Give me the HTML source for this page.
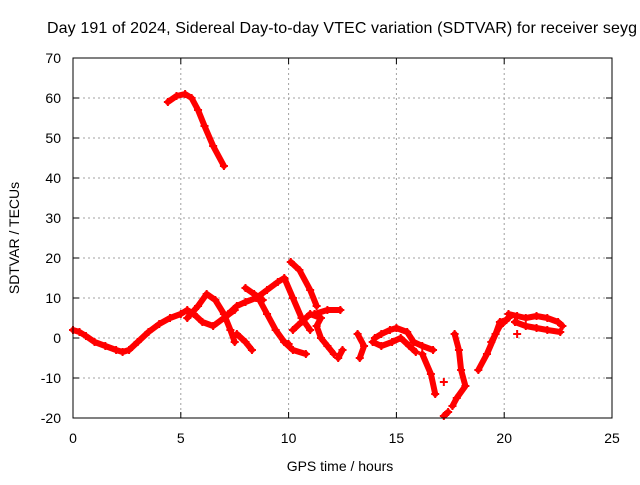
<!DOCTYPE html>
<html><head><meta charset="utf-8"><style>
body{margin:0;background:#fff}
svg text{font-family:"Liberation Sans",sans-serif;font-size:14px;fill:#000}
</style></head><body>
<svg id="chart" width="640" height="480">
<rect width="640" height="480" fill="#fff"/>
<g id="grid"></g>
<g id="series"></g>
<rect x="73" y="58" width="539" height="360" fill="none" stroke="#000" stroke-width="1"/>
<g id="ticks"></g>
<text x="47" y="33" text-anchor="start" style="font-size:16px" textLength="590">Day 191 of 2024, Sidereal Day-to-day VTEC variation (SDTVAR) for receiver seyg</text>
<text x="340" y="471" text-anchor="middle">GPS time / hours</text>
<text transform="translate(19,238) rotate(-90)" text-anchor="middle">SDTVAR / TECUs</text>
</svg>
<script>
const xTicks=[0,5,10,15,20,25];
const yTicks=[-20,-10,0,10,20,30,40,50,60,70];
const tracks=[
[[0,2],[0.3,1.5],[0.6,0.5],[1,-1],[1.5,-2],[2,-3],[2.3,-3.5],[2.6,-3],[3,-1],[3.5,1.5],[4,3.5],[4.5,5],[5,6],[5.3,7],[5.6,6],[6,4],[6.5,3],[7,5],[7.5,7]],
[[5.3,5],[5.8,8],[6.2,11],[6.6,9.5],[7,6],[7.3,2],[7.5,-1]],
[[7.2,6],[7.6,8],[8,9],[8.5,10],[9,12],[9.5,14],[9.8,15],[10.2,10],[10.6,5],[11,2]],
[[8,12.5],[8.4,11],[8.8,9.5]],
[[8.6,10],[9,6],[9.4,2],[9.8,-1],[10,-1.5]],
[[7.6,1],[8,-1],[8.3,-3]],
[[10.1,19],[10.5,17],[11,12],[11.3,8]],
[[9.8,-1],[10.2,-3],[10.8,-4]],
[[10.2,2],[10.6,4],[11,6],[11.5,5],[11.3,3],[11.5,0],[11.8,-2],[12.1,-4]],
[[11.2,6],[11.8,7],[12.4,7]],
[[12.5,-3],[12.3,-5]],
[[13.2,1],[13.5,-2],[13.3,-5]],
[[14,0],[14.3,1],[14.7,2],[15,2.5],[15.5,1.5],[15.8,-1],[16.2,-2],[16.7,-3]],
[[13.9,-1],[14.3,-2],[14.8,-1],[15.2,0],[15.6,-2],[15.9,-3.5]],
[[16.2,-4],[16.6,-9],[16.8,-14]],
[[17.7,1],[17.9,-3],[18,-8],[18.2,-12],[17.8,-15],[17.6,-17]],
[[17.2,-19.5],[17.4,-18.5]],
[[17.2,-11]],
[[18.8,-8],[19.2,-4],[19.6,1],[19.8,4],[20.1,4.5]],
[[19.4,-1],[19.8,3],[20.2,5]],
[[20.2,6],[20.6,5.5],[21,5],[21.5,5.5],[22,5],[22.5,4],[22.7,3]],
[[20.5,4],[21,3],[21.5,2.5],[22,2],[22.6,1.5]],
[[20.6,1]],
[[4.4,59],[4.8,60.5],[5.2,61],[5.5,60],[5.8,57],[6.1,53],[6.5,48],[7,43]]
];
const X0=73,X1=612,Y0=418,Y1=58;
const sx=v=>X0+(v-0)/(25-0)*(X1-X0);
const sy=v=>Y0-(v+20)/(70+20)*(Y0-Y1);
const NS="http://www.w3.org/2000/svg";
const grid=document.getElementById('grid'),ticks=document.getElementById('ticks'),ser=document.getElementById('series');
function mk(t,a,p){const e=document.createElementNS(NS,t);for(const k in a)e.setAttribute(k,a[k]);p.appendChild(e);return e;}
xTicks.forEach(v=>{
 const x=sx(v);
 if(v>0&&v<25){const g=mk('line',{x1:x,x2:x,y1:Y1,y2:Y0,stroke:'#a0a0a0','stroke-dasharray':'2,3'},grid);
 
 }
 mk('line',{x1:x,x2:x,y1:Y0,y2:Y0-6,stroke:'#000'},ticks);
 mk('line',{x1:x,x2:x,y1:Y1,y2:Y1+6,stroke:'#000'},ticks);
 const t=mk('text',{x:x,y:443,'text-anchor':'middle'},ticks);t.textContent=v;
 
 
});
yTicks.forEach(v=>{
 const y=sy(v);
 if(v>-20&&v<70){const g=mk('line',{x1:X0,x2:X1,y1:y,y2:y,stroke:'#a0a0a0','stroke-dasharray':'2,3'},grid);
 
 }
 mk('line',{x1:X0,x2:X0+6,y1:y,y2:y,stroke:'#000'},ticks);
 mk('line',{x1:X1,x2:X1-6,y1:y,y2:y,stroke:'#000'},ticks);
 const t=mk('text',{x:61,y:y+5,'text-anchor':'end'},ticks);t.textContent=v;
 
 
});
tracks.forEach(tr=>{
 const pts=tr.map(p=>sx(p[0])+','+sy(p[1])).join(' ');
 if(tr.length>1){const pl=mk('polyline',{points:pts,fill:'none',stroke:'#f00','stroke-width':6,'stroke-linejoin':'round','stroke-linecap':'round'},ser);
 
 }
 tr.forEach(p=>{const x=sx(p[0]),y=sy(p[1]);
  const m=mk('path',{d:`M${x-4},${y}H${x+4}M${x},${y-4}V${y+4}`,stroke:'#f00','stroke-width':2},ser);
  
  });
});
</script>
</body></html>
